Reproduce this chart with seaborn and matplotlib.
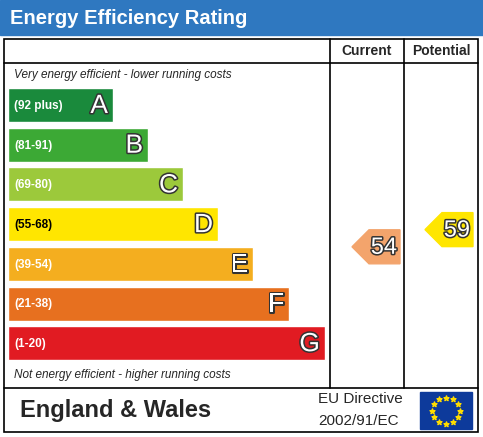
import matplotlib
matplotlib.use("Agg")
import matplotlib.pyplot as plt
import matplotlib.patheffects as pe
from matplotlib.patches import Polygon, Rectangle
import numpy as np
import seaborn as sns

sns.set_style("white")
plt.rcParams['font.family'] = ['Liberation Sans', 'DejaVu Sans']

bands = ["A", "B", "C", "D", "E", "F", "G"]
ranges = ["(92 plus)", "(81-91)", "(69-80)", "(55-68)", "(39-54)", "(21-38)", "(1-20)"]
band_ends = [113, 148, 183, 218, 253, 289, 325]
colors = ["#1a8a3c", "#3ca935", "#9cc93b", "#ffe600", "#f4ae1f", "#e7701f", "#e11b22"]
current = 54
potential = 59
current_color = "#f3a46c"
potential_color = "#ffe600"

fig = plt.figure(figsize=(4.83, 4.37), dpi=100)
ax = fig.add_axes([0, 0, 1, 1])
ax.set_xlim(0, 483)
ax.set_ylim(437, 0)
ax.axis("off")

# title bar
ax.add_patch(Rectangle((0, 0), 483, 35, color="#2f78c0"))
ax.text(10, 18, "Energy Efficiency Rating", color="white", fontsize=14.5, fontweight="bold", va="center")

# frames
lw = 1.2
ax.add_patch(Rectangle((4, 39), 474, 393, fill=False, lw=lw, ec="black"))
ax.plot([4, 478], [63, 63], color="black", lw=lw)
ax.plot([4, 478], [388, 388], color="black", lw=lw)
ax.plot([330, 330], [39, 388], color="black", lw=lw)
ax.plot([404, 404], [39, 388], color="black", lw=lw)
ax.text(367, 51, "Current", fontsize=10, fontweight="bold", ha="center", va="center")
ax.text(441, 51, "Potential", fontsize=10, fontweight="bold", ha="center", va="center")
ax.text(14, 75, "Very energy efficient - lower running costs", fontsize=8.5, style="italic", va="center")
ax.text(14, 375, "Not energy efficient - higher running costs", fontsize=8.5, style="italic", va="center")

row_top = 88
row_step = 39.7
row_h = 34
centers = [row_top + row_h / 2 + i * row_step for i in range(len(bands))]
ax.barh(centers, [e - 8 for e in band_ends], left=8, height=row_h, color=colors)
stroke = [pe.withStroke(linewidth=2.2, foreground="#333333")]
for c, e, b, r in zip(centers, band_ends, bands, ranges):
    ax.text(14, c + 1, r, fontsize=8.5, fontweight="bold", color="white" if b != "D" else "black",
            va="center")
    ax.text(e - 5, c + 1, b, fontsize=19, color="white", ha="right", va="center", path_effects=stroke)


def y_for(v):
    # map rating onto row position
    lows = [92, 81, 69, 55, 39, 21, 1]
    highs = [100, 91, 80, 68, 54, 38, 20]
    for i, (lo, hi) in enumerate(zip(lows, highs)):
        if lo <= v <= hi:
            frac = (hi - v) / (hi - lo + 1)
            return centers[i] - row_h / 2 + frac * row_step
    return centers[-1]


def arrow(x0, x1, yc, val, col):
    h = 17
    pts = [(x0, yc), (x0 + h, yc - h), (x1, yc - h), (x1, yc + h), (x0 + h, yc + h)]
    ax.add_patch(Polygon(pts, closed=True, color=col))
    ax.text(x1 - 3, yc + 1, str(val), fontsize=17, color="white", ha="right", va="center", path_effects=stroke)


arrow(352, 400, y_for(current), current, current_color)
arrow(425, 473, y_for(potential) - 3, potential, potential_color)

# footer
ax.text(20, 410, "England & Wales", fontsize=17, fontweight="bold", va="center")
ax.text(318, 399, "EU Directive", fontsize=11, va="center")
ax.text(318, 421, "2002/91/EC", fontsize=11, va="center")
ax.add_patch(Rectangle((420, 392), 52, 37, color="#0d3a9b"))
ang = np.linspace(0, 2 * np.pi, 13)[:-1]
ax.scatter(446 + 14 * np.cos(ang), 410.5 + 13 * np.sin(ang), marker="*", s=14, color="#ffdd00", zorder=5)

fig.savefig("out.png", dpi=100)
